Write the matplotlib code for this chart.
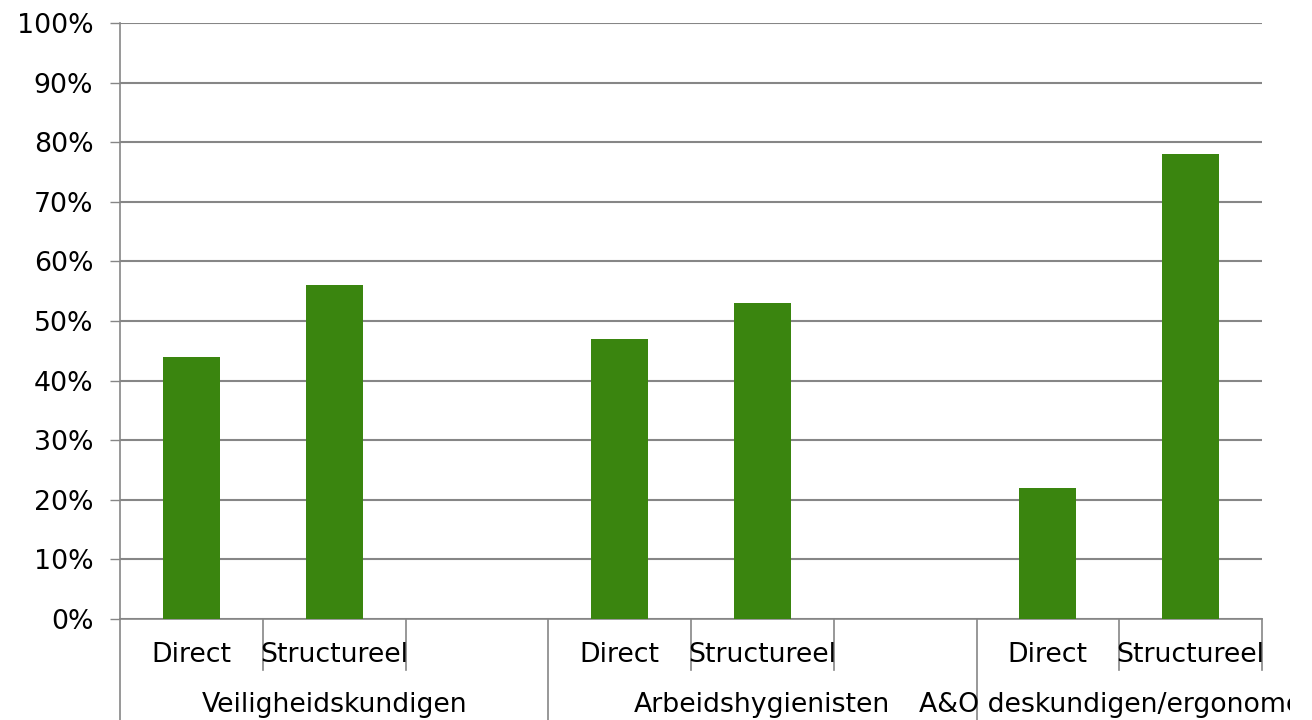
import matplotlib
matplotlib.use("Agg")
import matplotlib.pyplot as plt
from matplotlib.lines import Line2D
from matplotlib.patches import Rectangle

groups = ["Veiligheidskundigen", "Arbeidshygienisten", "A&O deskundigen/ergonomen"]
subcats = ["Direct", "Structureel"]
values = [[44, 56], [47, 53], [22, 78]]
yticks = [0, 10, 20, 30, 40, 50, 60, 70, 80, 90, 100]

GRAY = "#868686"
GREEN = "#3A850F"
FS = 19.3

plt.rcParams["font.family"] = ["DejaVu Sans"]
fig = plt.figure(figsize=(13.12, 7.2), dpi=100)
L, R, B, T = 120 / 1312, 1262 / 1312, 1 - 619 / 720, 1 - 23 / 720
ax = fig.add_axes([L, B, R - L, T - B])

positions = []
for gi, g in enumerate(groups):
    for si in range(len(subcats)):
        positions.append(gi * 3 + si)
nslots = 8
flat_vals = [v for grp in values for v in grp]
ax.bar([p + 0.5 for p in positions], flat_vals, width=0.4, color=GREEN, zorder=3)

ax.set_xlim(0, nslots)
ax.set_ylim(0, 100)
ax.set_yticks(yticks)
ax.set_yticklabels([f"{v}%" for v in yticks], fontsize=FS)
ax.yaxis.grid(True, color=GRAY, linewidth=1.5)
ax.set_axisbelow(True)
ax.tick_params(axis="y", length=7.2, width=1.0, color=GRAY, pad=12)

for s in ["top", "right"]:
    ax.spines[s].set_visible(False)
for s in ["left", "bottom"]:
    ax.spines[s].set_color(GRAY)
    ax.spines[s].set_linewidth(1.2)

ax.set_xticks(range(nslots + 1))
ax.set_xticklabels([])
ax.tick_params(axis="x", length=0)

trans = ax.get_xaxis_transform()
px = 1 / 596
short = -51 * px
long_ = -110 * px
for x in range(nslots + 1):
    y0 = long_ if x in (0, 3, 6) else short
    ax.add_line(Line2D([x, x], [0, y0], transform=trans, color=GRAY,
                       linewidth=1.2, clip_on=False))

pairs = [(gi, si) for gi in range(len(groups)) for si in range(len(subcats))]
for p, (gi, si) in zip(positions, pairs):
    ax.text(p + 0.5, -36 * px, subcats[si], transform=trans, ha="center",
            va="center", fontsize=FS)

clip = Rectangle((0, 0), 1290 / 1312, 1, transform=fig.transFigure)
group_spans = [(0, 3), (3, 6), (6, 8)]
for g, (a, b) in zip(groups, group_spans):
    t = ax.text((a + b) / 2, -86 * px, g, transform=trans, ha="center",
                va="center", fontsize=FS)
    t.set_clip_on(True)
    t.set_clip_box(None)
    t.set_clip_path(clip)

fig.savefig("out.png", dpi=100)
